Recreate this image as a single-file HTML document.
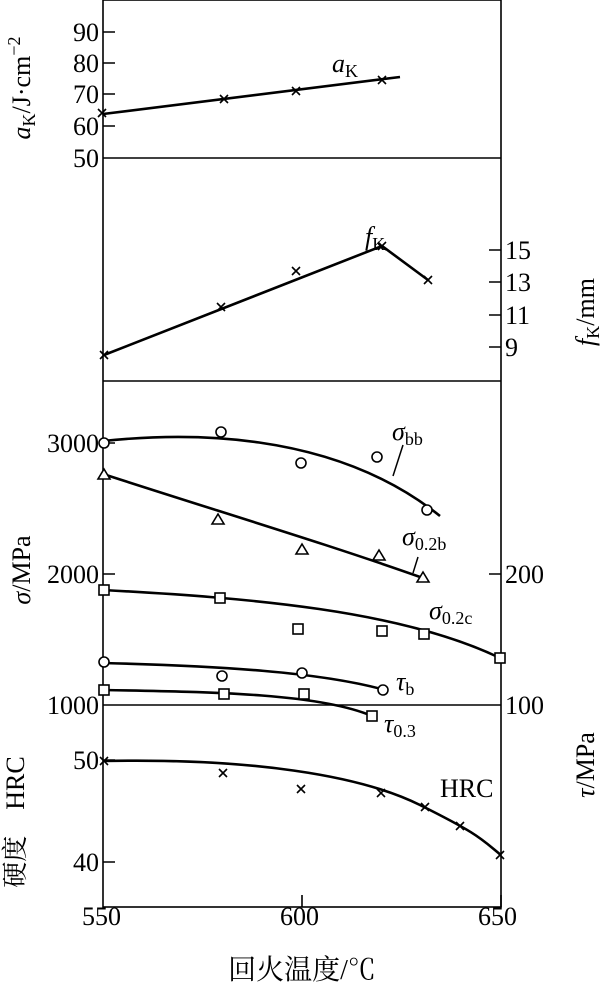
<!DOCTYPE html><html><head><meta charset="utf-8"><style>body{margin:0;background:#fff}svg{display:block}text{font-family:"Liberation Serif","Noto Serif CJK SC",serif;fill:#000}</style></head><body>
<svg width="608" height="984" viewBox="0 0 608 984" xmlns="http://www.w3.org/2000/svg">
<g stroke="#000" fill="none" stroke-width="1.6">
<rect x="103" y="0" width="398" height="907"/>
<line x1="103" y1="158" x2="501" y2="158"/><line x1="103" y1="381" x2="501" y2="381"/><line x1="103" y1="705" x2="501" y2="705"/>
<path d="M103 32h12M103 63h12M103 94h12M103 126h12M103 443h12M103 574h12M103 760h12M103 862h12"/>
<path d="M501 250h-12M501 282h-12M501 315h-12M501 347h-12M501 574h-12"/>
<path d="M302 907v-12M501 907v-12"/>
</g>
<g stroke="#000" fill="none" stroke-width="2.6">
<line x1="103" y1="114" x2="400" y2="77"/>
<polyline points="104,355 382,246 428,280"/>
<path d="M103,441 C180,433 330,428 440,516"/>
<path d="M103,474 C230,515 330,545 423,578"/>
<path d="M103,590 C250,598 400,610 500,658"/>
<path d="M103,663 C220,666 320,672 385,690"/>
<path d="M103,690 C220,692 320,694 372,716"/>
<path d="M103,761 C250,758 360,775 420,805 S480,838 501,855"/>
</g>
<g stroke="#000" fill="none" stroke-width="1.5">
<line x1="403" y1="445" x2="393" y2="476"/>
<line x1="418" y1="557" x2="413" y2="573"/>
</g>
<g stroke="#000" stroke-width="1.6" fill="#fff">
<g fill="none">
<path d="M98 109l8 8M106 109l-8 8M220 95l8 8M228 95l-8 8M292 87l8 8M300 87l-8 8M378 76l8 8M386 76l-8 8"/>
<path d="M100 351l8 8M108 351l-8 8M217 303l8 8M225 303l-8 8M292 267l8 8M300 267l-8 8M378 242l8 8M386 242l-8 8M424 276l8 8M432 276l-8 8"/>
<path d="M100 757l8 8M108 757l-8 8M219 769l8 8M227 769l-8 8M297 785l8 8M305 785l-8 8M377 789l8 8M385 789l-8 8M421 803l8 8M429 803l-8 8M456 822l8 8M464 822l-8 8M496 851l8 8M504 851l-8 8"/>
</g>
<circle cx="104" cy="443" r="5"/><circle cx="221" cy="432" r="5"/><circle cx="301" cy="463" r="5"/><circle cx="377" cy="457" r="5"/><circle cx="427" cy="510" r="5"/>
<path d="M104 469l6 10h-12zM218 514l6 10h-12zM302 544l6 10h-12zM379 550l6 10h-12zM423 572l6 10h-12z"/>
<rect x="99" y="585" width="10" height="10"/><rect x="215" y="593" width="10" height="10"/><rect x="293" y="624" width="10" height="10"/><rect x="377" y="626" width="10" height="10"/><rect x="419" y="629" width="10" height="10"/><rect x="495" y="653" width="10" height="10"/>
<circle cx="104" cy="662" r="5"/><circle cx="222" cy="676" r="5"/><circle cx="302" cy="673" r="5"/><circle cx="383" cy="690" r="5"/>
<rect x="99" y="685" width="10" height="10"/><rect x="219" y="689" width="10" height="10"/><rect x="299" y="689" width="10" height="10"/><rect x="367" y="711" width="10" height="10"/>
</g>
<g font-size="26" text-anchor="end">
<text x="99" y="41">90</text><text x="99" y="72">80</text><text x="99" y="103">70</text><text x="99" y="135">60</text><text x="99" y="167">50</text>
<text x="99" y="452">3000</text><text x="99" y="583">2000</text><text x="99" y="714">1000</text>
<text x="99" y="769">50</text><text x="99" y="871">40</text>
</g>
<g font-size="26">
<text x="505" y="259">15</text><text x="505" y="291">13</text><text x="505" y="324">11</text><text x="505" y="356">9</text>
<text x="505" y="583">200</text><text x="505" y="714">100</text>
<text x="82" y="925">550</text><text x="280" y="925">600</text><text x="478" y="925">650</text>
<text x="332" y="72" font-style="italic">a<tspan font-style="normal" font-size="18" dy="5">K</tspan></text>
<text x="365" y="245" font-style="italic">f<tspan font-style="normal" font-size="18" dy="5">K</tspan></text>
<text x="392" y="440" font-style="italic">σ<tspan font-style="normal" font-size="18" dy="5">bb</tspan></text>
<text x="402" y="545" font-style="italic">σ<tspan font-style="normal" font-size="18" dy="5">0.2b</tspan></text>
<text x="429" y="619" font-style="italic">σ<tspan font-style="normal" font-size="18" dy="5">0.2c</tspan></text>
<text x="396" y="690" font-style="italic">τ<tspan font-style="normal" font-size="18" dy="5">b</tspan></text>
<text x="384" y="732" font-style="italic">τ<tspan font-style="normal" font-size="18" dy="5">0.3</tspan></text>
<text x="440" y="797">HRC</text>
<text x="302" y="979" text-anchor="middle" font-size="28">回火温度/℃</text>
<text transform="translate(30 88) rotate(-90)" text-anchor="middle"><tspan font-style="italic">a</tspan><tspan font-size="18" dy="5">K</tspan><tspan dy="-5">/J·cm</tspan><tspan font-size="18" dy="-10">−2</tspan></text>
<text transform="translate(30 570) rotate(-90)" text-anchor="middle"><tspan font-style="italic">σ</tspan>/MPa</text>
<text transform="translate(24 822) rotate(-90)" text-anchor="middle">硬度　HRC</text>
<text transform="translate(594 312) rotate(-90)" text-anchor="middle"><tspan font-style="italic">f</tspan><tspan font-size="18" dy="5">K</tspan><tspan dy="-5">/mm</tspan></text>
<text transform="translate(594 765) rotate(-90)" text-anchor="middle"><tspan font-style="italic">τ</tspan>/MPa</text>
</g>
</svg></body></html>
